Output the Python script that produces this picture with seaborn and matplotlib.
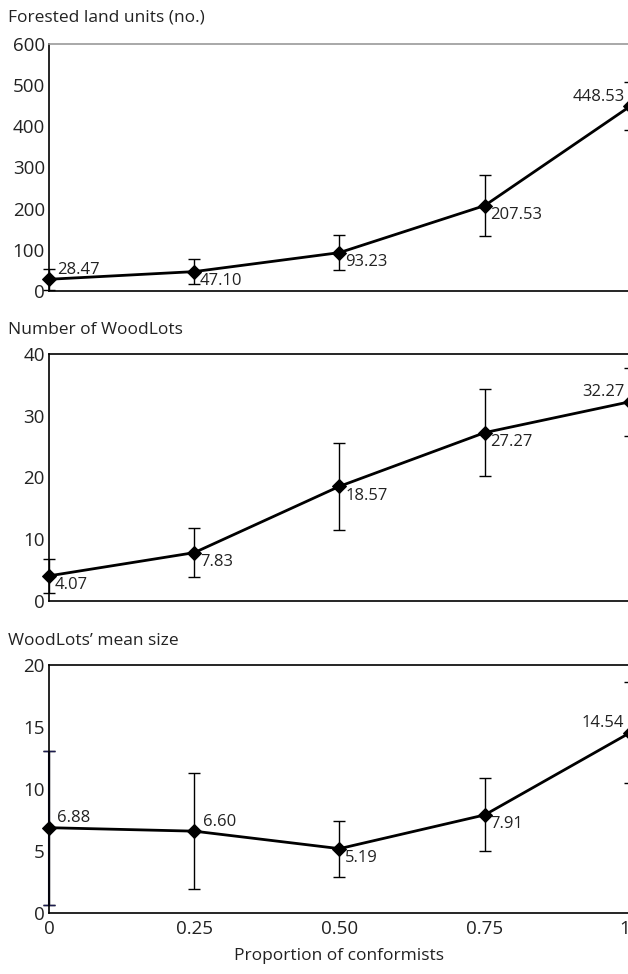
import matplotlib
matplotlib.use('Agg')
import matplotlib.pyplot as plt
import matplotlib.transforms as mtransforms
import seaborn as sns

# data
proportion = [0, 0.25, 0.50, 0.75, 1.0]
x_tick_labels = ['0', '0.25', '0.50', '0.75', '1']

land_units = [28.47, 47.10, 93.23, 207.53, 448.53]
land_units_err = [25, 31, 43, 74, 58]

woodlots = [4.07, 7.83, 18.57, 27.27, 32.27]
woodlots_err = [2.7, 4.0, 7.0, 7.1, 5.5]

mean_size = [6.88, 6.60, 5.19, 7.91, 14.54]
mean_size_err = [6.2, 4.7, 2.25, 2.95, 4.05]

titles = ["Forested land units (no.)", "Number of WoodLots", "WoodLots\u2019 mean size"]
y_maxes = [600, 40, 20]
y_steps = [100, 10, 5]

# label placement: 'ra' right-above, 'rb' right-below, 'la' left-above
label_pos = [
    ['ra', 'rb', 'rb', 'rb', 'la'],
    ['rb', 'rb', 'rb', 'rb', 'la'],
    ['ra', 'ra', 'rb', 'rb', 'la'],
]

sns.set_style('white')
plt.rcParams['font.family'] = ['Open Sans', 'DejaVu Sans']

fig = plt.figure(figsize=(6.28, 9.74), dpi=100)

W, H = 628, 974
panels = [(44, 291), (354, 601), (665, 913)]  # top, bottom in pixels
title_y = [18, 330, 641]

series = [(land_units, land_units_err), (woodlots, woodlots_err), (mean_size, mean_size_err)]

for i, ((top, bot), (vals, errs)) in enumerate(zip(panels, series)):
    ax = fig.add_axes([49 / W, 1 - bot / H, 581 / W, (bot - top) / H])
    ax.errorbar(proportion, vals, yerr=errs, fmt='none', ecolor='black',
                elinewidth=1, capsize=4.5, capthick=1, zorder=2, clip_on=False)
    if i == 2:
        # first bar of the last panel is drawn in dark navy in the original
        ax.errorbar(proportion[:1], vals[:1], yerr=errs[:1], fmt='none',
                    ecolor='#1c1c50', elinewidth=1.5, capsize=4.5, capthick=1,
                    zorder=2.5, clip_on=False)
    sns.lineplot(x=proportion, y=vals, ax=ax, color='black', linewidth=2,
                 marker='D', markersize=7, markeredgecolor='black', zorder=3,
                 clip_on=False)

    ax.set_xlim(0, 1)
    ax.set_ylim(0, y_maxes[i])
    ax.set_yticks(range(0, y_maxes[i] + 1, y_steps[i]))
    ax.set_xticks(proportion)
    if i == 2:
        ax.set_xticklabels(x_tick_labels)
        # last label sits on the figure edge, nudge it inside
        last = ax.get_xticklabels()[-1]
        last.set_horizontalalignment('right')
        last.set_transform(last.get_transform() +
                           mtransforms.ScaledTranslation(-3 / 100, 0, fig.dpi_scale_trans))
        ax.set_xlabel('Proportion of conformists', fontsize=12.5, labelpad=7,
                      color='#222222')
    else:
        ax.set_xticklabels([])
    ax.set_ylabel('')

    ax.tick_params(axis='y', direction='in', length=8, width=1, labelsize=13.5,
                   pad=3, colors='black', labelcolor='#222222')
    ax.tick_params(axis='x', direction='in', length=11, width=1, labelsize=13.5,
                   pad=5, colors='black', labelcolor='#222222')

    for side in ['left', 'bottom', 'top']:
        ax.spines[side].set_visible(True)
        ax.spines[side].set_color('black')
        ax.spines[side].set_linewidth(1.2)
    ax.spines['right'].set_visible(False)
    if i == 0:
        ax.spines['top'].set_color('#999999')

    for x, v, pos in zip(proportion, vals, label_pos[i]):
        txt = f'{v:.2f}'
        if pos == 'ra':
            off, ha, va = (6, 1), 'left', 'bottom'
        elif pos == 'rb':
            off, ha, va = (4, -1), 'left', 'top'
        else:
            off, ha, va = (-4, 1), 'right', 'bottom'
        ax.annotate(txt, (x, v), xytext=off, textcoords='offset points',
                    ha=ha, va=va, fontsize=12, color='#222222')

    fig.text(8 / W, 1 - title_y[i] / H, titles[i], fontsize=12.5, ha='left',
             va='center', color='#222222')

fig.savefig('out.png', dpi=100)
